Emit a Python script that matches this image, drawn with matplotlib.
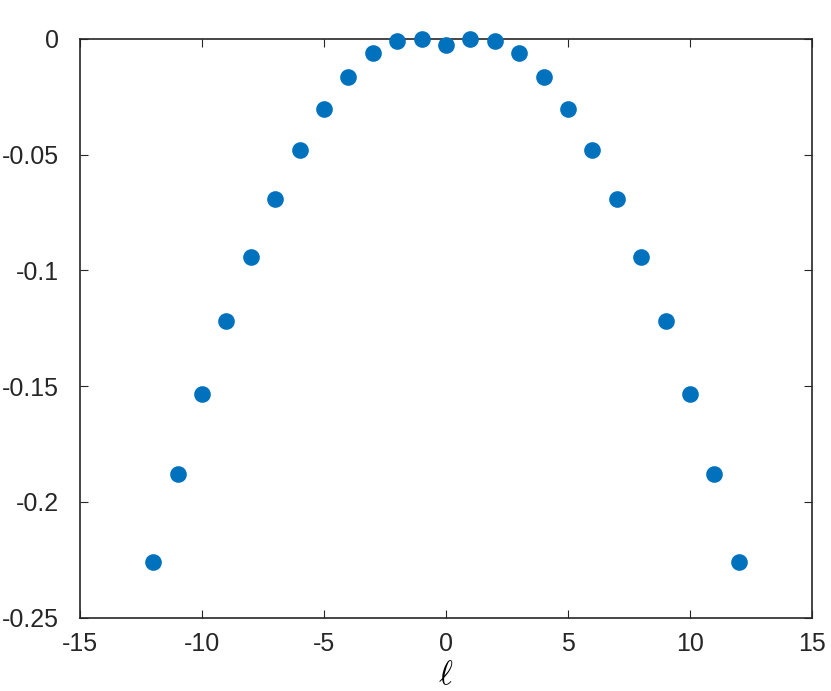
import numpy as np
import matplotlib
matplotlib.use('Agg')
import matplotlib.pyplot as plt

# valores
ell = [-12, -11, -10, -9, -8, -7, -6, -5, -4, -3, -2, -1, 0, 1, 2, 3, 4, 5, 6, 7, 8, 9, 10, 11, 12]
energia = [-0.2258, -0.1881, -0.1534, -0.1220, -0.0941, -0.0693, -0.0481, -0.0305, -0.0164, -0.0062,
           -0.0008, 0.0, -0.0027, 0.0, -0.0008, -0.0062, -0.0164, -0.0305, -0.0481, -0.0693,
           -0.0941, -0.1220, -0.1534, -0.1881, -0.2258]
xticks = [-15, -10, -5, 0, 5, 10, 15]
yticks = [-0.25, -0.2, -0.15, -0.1, -0.05, 0]
yticklabels = ['-0.25', '-0.2', '-0.15', '-0.1', '-0.05', '0']

plt.rcParams['font.family'] = ['Liberation Sans', 'DejaVu Sans']
plt.rcParams['mathtext.fontset'] = 'cm'

fig = plt.figure(figsize=(8.31, 6.91), dpi=100)
ax = fig.add_axes([80 / 831, (691 - 617.7) / 691, (812 - 80) / 831, (617.7 - 38.7) / 691])

ax.plot(ell, energia, linestyle='none', marker='o', markersize=12,
        color='#0072BD', markeredgewidth=0, clip_on=False, zorder=3)

ax.set_xlim(-15, 15)
ax.set_ylim(-0.25, 0)
ax.set_xticks(xticks)
ax.set_xticklabels([str(t) for t in xticks])
ax.set_yticks(yticks)
ax.set_yticklabels(yticklabels)

for s in ax.spines.values():
    s.set_color('#262626')
    s.set_linewidth(1.2)
ax.tick_params(direction='in', length=6, width=0.8, colors='#262626',
               labelsize=18, top=True, right=True)
ax.tick_params(axis='x', pad=10)
ax.tick_params(axis='y', pad=15)
ax.tick_params(labelcolor='#262626')

ax.set_xlabel(r'$\ell$', fontsize=24, labelpad=3)

fig.savefig('out.png', dpi=100)
